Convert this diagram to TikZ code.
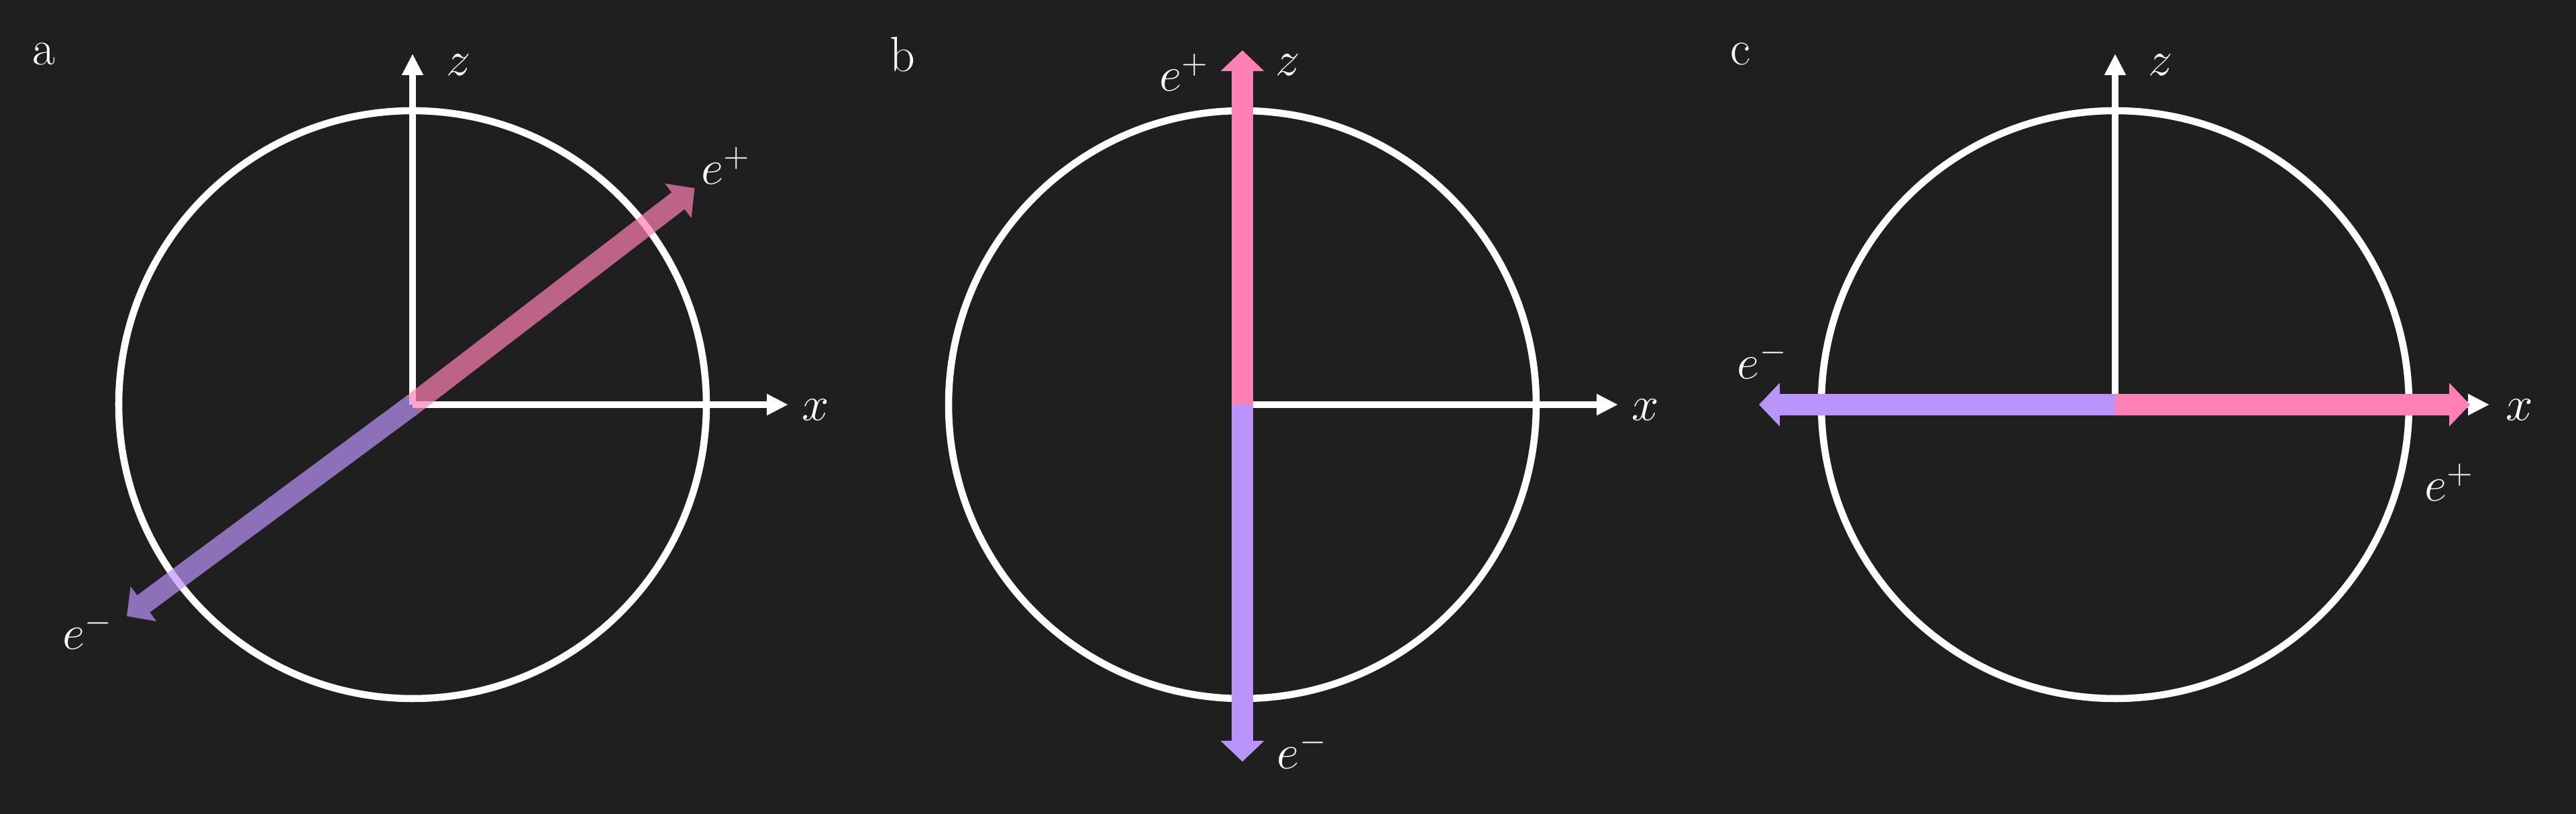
\documentclass[tikz,border=0pt]{standalone}
\usepackage{tikz}
\usetikzlibrary{arrows.meta, positioning}
\definecolor{bgdark}{HTML}{1F1F1F}
\definecolor{posipink}{HTML}{FF80B4}
\definecolor{elecviolet}{HTML}{BB94FB}
\begin{document}
\begin{tikzpicture}[
    sphere/.style={draw=white, line width=3pt},
    axis/.style={draw=white, line width=2.8pt, -{Triangle[length=0.32cm, width=0.30cm]}},
    spin/.style={line width=9pt, -{Triangle[length=0.31cm, width=0.63cm]}},
    faded/.style={transparency group, opacity=0.7},
    lbl/.style={text=white, font=\fontsize{21}{24}\selectfont, inner sep=0pt},
    panel/.style={text=white, font=\fontsize{21}{24}\selectfont, inner sep=0pt}
]
\fill[bgdark] (0,0) rectangle (38.4,12.13);
\useasboundingbox (0,0) rectangle (38.4,12.13);

% Panel a - tilted pair
\begin{scope}[shift={(6.15,6.10)}]
\coordinate (oa) at (0,0);
\coordinate (za) at (0,5.23);
\coordinate (xa) at (5.60,0);
\coordinate (pa) at (37.5:5.30);
\coordinate (ma) at (216.5:5.30);
\node[panel] (la) at (-5.50,5.22) {a};
\draw[sphere] (oa) circle (4.38);
\draw[axis] (oa) -- (za);
\draw[axis] (oa) -- (xa);
\begin{scope}[faded]
\draw[spin, draw=posipink, fill=posipink] (oa) -- (pa);
\end{scope}
\begin{scope}[faded]
\draw[spin, draw=elecviolet, fill=elecviolet] (oa) -- (ma);
\end{scope}
\node[lbl] (zla) at (0.69,5.06) {$z$};
\node[lbl] (xla) at (6.01,-0.08) {$x$};
\node[lbl] (pla) at (4.67,3.56) {$e^+$};
\node[lbl] (mla) at (-4.84,-3.37) {$e^-$};
\end{scope}

% Panel b - pair along z
\begin{scope}[shift={(18.52,6.10)}]
\coordinate (ob) at (0,0);
\coordinate (zb) at (0,5.23);
\coordinate (xb) at (5.60,0);
\coordinate (pb) at (0,5.28);
\coordinate (mb) at (0,-5.32);
\node[panel] (lb) at (-5.07,5.22) {b};
\draw[sphere] (ob) circle (4.38);
\draw[axis] (ob) -- (zb);
\draw[axis] (ob) -- (xb);
\draw[spin, draw=posipink, fill=posipink] (ob) -- (pb);
\draw[spin, draw=elecviolet, fill=elecviolet] (ob) -- (mb);
\node[lbl] (zlb) at (0.68,5.06) {$z$};
\node[lbl] (xlb) at (6.01,-0.08) {$x$};
\node[lbl] (plb) at (-0.87,4.95) {$e^+$};
\node[lbl] (mlb) at (0.89,-5.15) {$e^-$};
\end{scope}

% Panel c - pair along x
\begin{scope}[shift={(31.53,6.10)}]
\coordinate (oc) at (0,0);
\coordinate (zc) at (0,5.23);
\coordinate (xc) at (5.58,0);
\coordinate (pc) at (5.29,0);
\coordinate (mc) at (-5.31,0);
\node[panel] (lc) at (-5.59,5.22) {c};
\draw[sphere] (oc) circle (4.38);
\draw[axis] (oc) -- (zc);
\draw[axis] (oc) -- (xc);
\draw[spin, draw=posipink, fill=posipink] (oc) -- (pc);
\draw[spin, draw=elecviolet, fill=elecviolet] (oc) -- (mc);
\node[lbl] (zlc) at (0.68,5.06) {$z$};
\node[lbl] (xlc) at (6.03,-0.08) {$x$};
\node[lbl] (plc) at (4.98,-1.16) {$e^+$};
\node[lbl] (mlc) at (-5.26,0.66) {$e^-$};
\end{scope}
\end{tikzpicture}
\end{document}
